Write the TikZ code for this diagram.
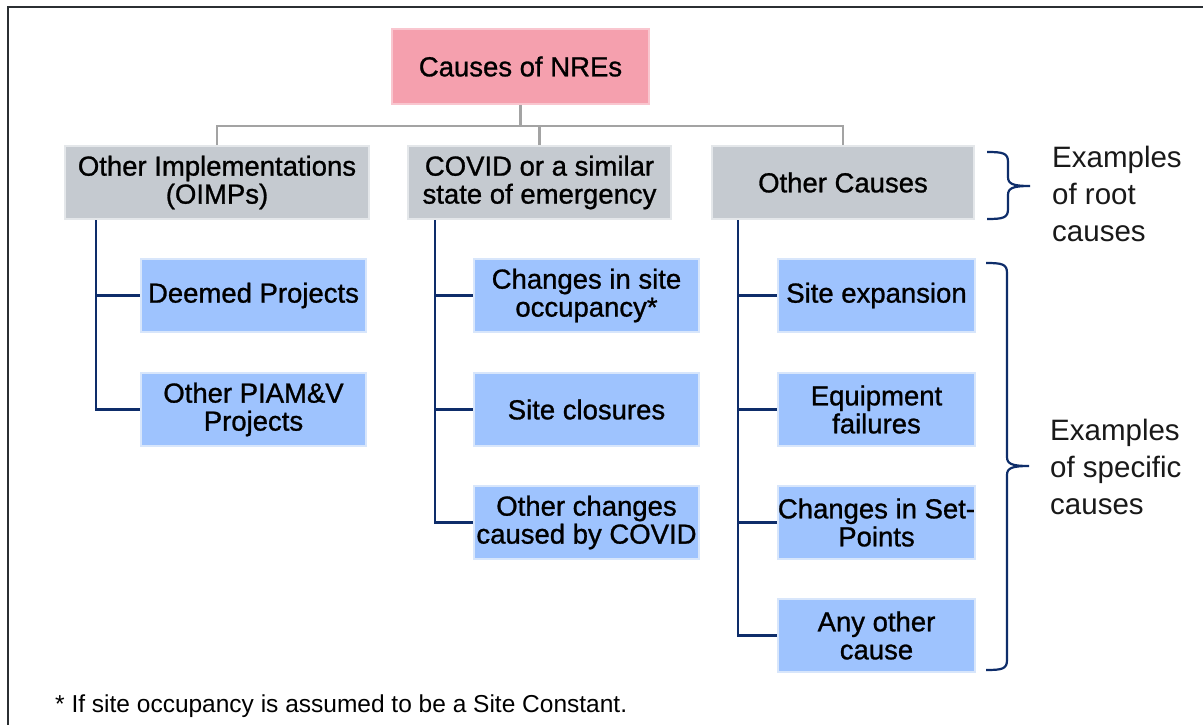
\documentclass[tikz,border=0pt]{standalone}
\usepackage{fontspec}
\setmainfont{Liberation Sans}
\newfontfamily\boxfont[FakeBold=1]{Liberation Sans}
\definecolor{rootfill}{HTML}{F5A0AE}
\definecolor{rootedge}{HTML}{F9C6CF}
\definecolor{catfill}{HTML}{C5CAD0}
\definecolor{catedge}{HTML}{E4E7EA}
\definecolor{leaffill}{HTML}{9EC3FE}
\definecolor{leafedge}{HTML}{D8E6FB}
\definecolor{navy}{HTML}{0E2D6A}
\definecolor{treegray}{HTML}{A3A3A3}
\definecolor{framecol}{HTML}{2B2F33}
\newcommand\drawcurly[4]{% x of ends, top y, bottom y, tip y
  \draw[bracket] (#1,#2) .. controls ({#1+16},#2) and ({#1+21},{#2+1}) .. ({#1+21},{#2+10})
    -- ({#1+21},{#4-9}) .. controls ({#1+21},{#4-2}) and ({#1+26},#4) .. ({#1+43},#4)
    .. controls ({#1+26},#4) and ({#1+21},{#4+2}) .. ({#1+21},{#4+9})
    -- ({#1+21},{#3-10}) .. controls ({#1+21},{#3-1}) and ({#1+16},#3) .. (#1,#3);}
\tikzset{
  boxtext/.style={font=\boxfont\fontsize{27.5}{28}\selectfont, align=center, text=black, inner sep=0pt},
  rootbox/.style={boxtext, draw=rootedge, fill=rootfill, line width=2.5pt, minimum width=257pt, minimum height=75pt},
  catbox/.style={boxtext, draw=catedge, fill=catfill, line width=2.5pt, minimum height=73pt},
  leafbox/.style={boxtext, draw=leafedge, fill=leaffill, line width=2.5pt, minimum height=73pt},
  grayline/.style={draw=treegray, line width=2.2pt},
  navyline/.style={draw=navy, line width=2.2pt},
  bracket/.style={draw=navy, line width=2.2pt},
  note/.style={font=\fontsize{29.5}{37}\selectfont, align=left, anchor=north west, inner sep=0pt, text=black!90},
}
\begin{document}
\begin{tikzpicture}[x=1pt, y=-1pt]
\useasboundingbox (0,0) rectangle (1203,725);
\fill[white] (0,0) rectangle (1203,725);
% outer frame (top and left edges)
\draw[framecol, line width=2.5pt] (8,725) -- (8,7) -- (1203,7);

% root
\node[rootbox] (root) at (520.5,66.5) {Causes of NREs};

% root-cause categories
\node[catbox, minimum width=304pt] (g1) at (217,182.5) {Other Implementations\\(OIMPs)};
\node[catbox, minimum width=263pt] (g2) at (539.5,182.5) {COVID or a similar\\state of emergency};
\node[catbox, minimum width=262pt] (g3) at (843,182.5) {Other Causes};

% specific causes
\node[leafbox, minimum width=225pt] (a1) at (253.5,295.5) {Deemed Projects};
\node[leafbox, minimum width=225pt] (a2) at (253.5,409.5) {Other PIAM\&V\\Projects};

\node[leafbox, minimum width=225pt] (b1) at (586.5,295.5) {Changes in site\\occupancy*};
\node[leafbox, minimum width=225pt] (b2) at (586.5,409.5) {Site closures};
\node[leafbox, minimum width=225pt] (b3) at (586.5,522.5) {Other changes\\caused by COVID};

\node[leafbox, minimum width=197pt] (c1) at (876.5,295.5) {Site expansion};
\node[leafbox, minimum width=197pt] (c2) at (876.5,409.5) {Equipment\\failures};
\node[leafbox, minimum width=197pt] (c3) at (876.5,522.5) {Changes in Set-\\Points};
\node[leafbox, minimum width=197pt] (c4) at (876.5,635.5) {Any other\\cause};

% gray tree from root to categories
\draw[grayline] (root.south) -- (root.south |- 0,126);
\draw[grayline] (g1.north) |- (g3.north |- 0,126) -- (g3.north);
\draw[grayline] (g2.north |- 0,126) -- (g2.north);

% navy trees from categories to specific causes
\draw[navyline] (g1.south -| 96,0) |- (a2.west);
\draw[navyline] (a1.west -| 96,0) -- (a1.west);

\draw[navyline] (g2.south -| 435,0) |- (b3.west);
\draw[navyline] (b1.west -| 435,0) -- (b1.west);
\draw[navyline] (b2.west -| 435,0) -- (b2.west);

\draw[navyline] (g3.south -| 738,0) |- (c4.west);
\draw[navyline] (c1.west -| 738,0) -- (c1.west);
\draw[navyline] (c2.west -| 738,0) -- (c2.west);
\draw[navyline] (c3.west -| 738,0) -- (c3.west);

% braces and their notes
\drawcurly{987}{152}{219}{186}
\drawcurly{986}{263}{670}{466}
\node[note] (n1) at (1052,146) {Examples\\of root\\causes};
\node[note] (n2) at (1050,419) {Examples\\of specific\\causes};

% footnote
\node[font=\fontsize{24.5}{28}\selectfont, anchor=west, inner sep=0pt] (fn) at (55,706) {* If site occupancy is assumed to be a Site Constant.};
\end{tikzpicture}
\end{document}
